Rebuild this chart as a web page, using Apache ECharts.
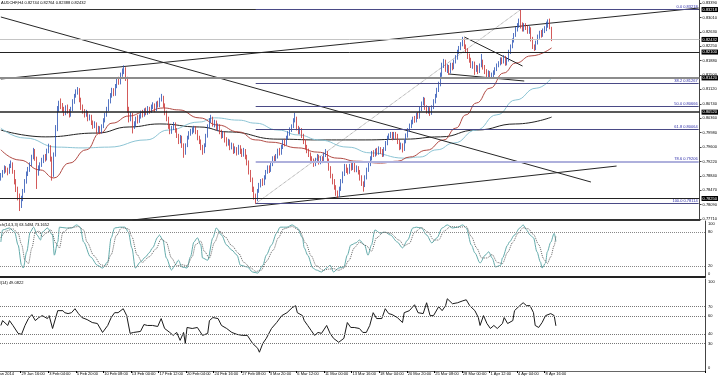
<!DOCTYPE html>
<html>
<head>
<meta charset="utf-8">
<script src="https://cdn.jsdelivr.net/npm/echarts@6.0.0/dist/echarts.min.js"></script>
<style>html,body{margin:0;padding:0;background:#fff}#chart{width:720px;height:377px}</style>
</head>
<body>
<div id="chart"></div>
<script>
// AUDCHF H4 closes, highs, lows (one row = 16 bars)
var firstOpen = 0.7880;
var closes = [
 0.7885,0.7895,0.7905,0.7900,0.7895,0.7910,0.7915,0.7895,0.7870,0.7850,0.7830,0.7815,0.7825,0.7845,0.7870,0.7890,
 0.7900,0.7915,0.7935,0.7950,0.7930,0.7895,0.7905,0.7915,0.7925,0.7935,0.7930,0.7950,0.7960,0.7930,0.7890,0.7940,
 0.8010,0.8060,0.8075,0.8070,0.8060,0.8050,0.8065,0.8055,0.8045,0.8060,0.8080,0.8095,0.8105,0.8110,0.8085,0.8065,
 0.8055,0.8045,0.8050,0.8035,0.8040,0.8025,0.8015,0.8020,0.8005,0.8010,0.8000,0.8015,0.8030,0.8045,0.8060,0.8080,
 0.8095,0.8110,0.8100,0.8120,0.8135,0.8130,0.8150,0.8160,0.8165,0.8140,0.8060,0.8035,0.8045,0.8015,0.8020,0.8035,
 0.8030,0.8040,0.8050,0.8045,0.8055,0.8050,0.8060,0.8055,0.8065,0.8070,0.8060,0.8075,0.8070,0.8085,0.8090,0.8070,
 0.8050,0.8035,0.8015,0.8000,0.8010,0.8020,0.8005,0.7990,0.7975,0.7985,0.7965,0.7945,0.7965,0.7985,0.7995,0.8000,
 0.8005,0.8010,0.8000,0.7985,0.7975,0.7960,0.7950,0.7965,0.7990,0.8015,0.8030,0.8035,0.8020,0.8025,0.8010,0.8015,
 0.8000,0.7990,0.7995,0.7980,0.7970,0.7975,0.7960,0.7965,0.7950,0.7955,0.7945,0.7960,0.7950,0.7940,0.7950,0.7935,
 0.7920,0.7895,0.7875,0.7850,0.7830,0.7825,0.7845,0.7860,0.7870,0.7865,0.7880,0.7895,0.7905,0.7900,0.7915,0.7930,
 0.7925,0.7935,0.7950,0.7945,0.7960,0.7975,0.7970,0.7985,0.7995,0.8005,0.8015,0.8030,0.8035,0.8010,0.8000,0.8005,
 0.7990,0.7975,0.7960,0.7950,0.7940,0.7930,0.7925,0.7915,0.7925,0.7935,0.7920,0.7930,0.7925,0.7940,0.7945,0.7925,
 0.7905,0.7885,0.7870,0.7855,0.7840,0.7835,0.7850,0.7870,0.7890,0.7910,0.7900,0.7895,0.7910,0.7905,0.7915,0.7900,
 0.7905,0.7895,0.7880,0.7865,0.7860,0.7880,0.7900,0.7915,0.7930,0.7945,0.7940,0.7950,0.7945,0.7955,0.7950,0.7940,
 0.7955,0.7970,0.7985,0.7990,0.7995,0.7985,0.7995,0.7990,0.7975,0.7960,0.7965,0.7955,0.7975,0.7990,0.8005,0.8015,
 0.8025,0.8035,0.8030,0.8045,0.8040,0.8060,0.8075,0.8085,0.8065,0.8055,0.8060,0.8050,0.8065,0.8080,0.8095,0.8110,
 0.8125,0.8150,0.8175,0.8185,0.8165,0.8170,0.8160,0.8175,0.8170,0.8185,0.8195,0.8210,0.8220,0.8230,0.8240,0.8225,
 0.8215,0.8200,0.8190,0.8175,0.8180,0.8165,0.8170,0.8160,0.8175,0.8185,0.8170,0.8160,0.8150,0.8155,0.8145,0.8150,
 0.8155,0.8165,0.8175,0.8180,0.8190,0.8185,0.8195,0.8180,0.8190,0.8210,0.8225,0.8240,0.8255,0.8270,0.8280,0.8290,
 0.8280,0.8270,0.8280,0.8275,0.8265,0.8270,0.8245,0.8225,0.8220,0.8235,0.8250,0.8260,0.8255,0.8265,0.8270,0.8280,
 0.8290,0.82744,0.82432
];
var highs = [
 0.7892,0.7900,0.7912,0.7910,0.7906,0.7916,0.7925,0.7920,0.7900,0.7876,0.7856,0.7838,0.7832,0.7850,0.7876,0.7896,
 0.7908,0.7920,0.7940,0.7958,0.7955,0.7935,0.7912,0.7920,0.7932,0.7940,0.7942,0.7956,0.7969,0.7965,0.7935,0.7946,
 0.8018,0.8068,0.8082,0.8088,0.8076,0.8066,0.8070,0.8072,0.8060,0.8066,0.8086,0.8100,0.8112,0.8118,0.8115,0.8090,
 0.8072,0.8060,0.8058,0.8055,0.8046,0.8045,0.8030,0.8028,0.8025,0.8016,0.8015,0.8020,0.8036,0.8050,0.8066,0.8086,
 0.8102,0.8116,0.8115,0.8126,0.8142,0.8145,0.8156,0.8167,0.8175,0.8170,0.8145,0.8066,0.8052,0.8050,0.8028,0.8040,
 0.8044,0.8046,0.8056,0.8058,0.8062,0.8064,0.8068,0.8066,0.8072,0.8078,0.8075,0.8080,0.8082,0.8090,0.8100,0.8095,
 0.8075,0.8056,0.8040,0.8020,0.8016,0.8026,0.8025,0.8010,0.7995,0.7992,0.7990,0.7970,0.7970,0.7990,0.8002,0.8008,
 0.8012,0.8016,0.8015,0.8005,0.7990,0.7980,0.7966,0.7970,0.7995,0.8020,0.8036,0.8045,0.8040,0.8032,0.8030,0.8022,
 0.8020,0.8006,0.8002,0.8000,0.7986,0.7982,0.7980,0.7972,0.7970,0.7962,0.7960,0.7966,0.7965,0.7956,0.7958,0.7955,
 0.7940,0.7925,0.7900,0.7880,0.7856,0.7838,0.7850,0.7866,0.7876,0.7878,0.7886,0.7900,0.7912,0.7912,0.7920,0.7936,
 0.7938,0.7942,0.7956,0.7958,0.7966,0.7980,0.7982,0.7990,0.8002,0.8012,0.8020,0.8036,0.8050,0.8040,0.8016,0.8012,
 0.8010,0.7995,0.7980,0.7966,0.7956,0.7946,0.7936,0.7930,0.7932,0.7942,0.7940,0.7936,0.7936,0.7946,0.7955,0.7950,
 0.7930,0.7910,0.7890,0.7876,0.7860,0.7846,0.7856,0.7876,0.7896,0.7916,0.7915,0.7906,0.7916,0.7918,0.7922,0.7920,
 0.7912,0.7910,0.7900,0.7886,0.7870,0.7886,0.7906,0.7920,0.7936,0.7950,0.7952,0.7956,0.7958,0.7962,0.7960,0.7955,
 0.7960,0.7976,0.7990,0.7996,0.8000,0.8000,0.8000,0.8000,0.7995,0.7980,0.7972,0.7970,0.7980,0.7996,0.8010,0.8022,
 0.8032,0.8040,0.8042,0.8050,0.8052,0.8066,0.8080,0.8092,0.8090,0.8070,0.8068,0.8065,0.8070,0.8086,0.8100,0.8116,
 0.8132,0.8156,0.8182,0.8192,0.8190,0.8178,0.8176,0.8182,0.8182,0.8190,0.8202,0.8216,0.8226,0.8236,0.8250,0.8246,
 0.8230,0.8220,0.8206,0.8195,0.8186,0.8185,0.8176,0.8175,0.8180,0.8205,0.8190,0.8176,0.8165,0.8162,0.8160,0.8156,
 0.8162,0.8170,0.8180,0.8186,0.8196,0.8196,0.8202,0.8200,0.8196,0.8216,0.8230,0.8246,0.8260,0.8276,0.8286,0.8298,
 0.8322,0.8288,0.8286,0.8286,0.8280,0.8278,0.8275,0.8250,0.8230,0.8240,0.8256,0.8266,0.8268,0.8272,0.8278,0.8290,
 0.8296,0.8298,0.82764
];
var lows = [
 0.7872,0.7880,0.7890,0.7893,0.7886,0.7890,0.7905,0.7890,0.7862,0.7842,0.7820,0.7792,0.7800,0.7818,0.7840,0.7864,
 0.7884,0.7895,0.7910,0.7928,0.7924,0.7850,0.7885,0.7898,0.7908,0.7918,0.7922,0.7925,0.7944,0.7922,0.7872,0.7882,
 0.7935,0.8002,0.8052,0.8060,0.8052,0.8042,0.8044,0.8048,0.8038,0.8040,0.8055,0.8074,0.8090,0.8098,0.8078,0.8058,
 0.8048,0.8038,0.8040,0.8028,0.8030,0.8018,0.8008,0.8010,0.7995,0.7998,0.7994,0.7996,0.8010,0.8025,0.8040,0.8055,
 0.8075,0.8090,0.8094,0.8095,0.8115,0.8124,0.8125,0.8145,0.8152,0.8134,0.8050,0.8025,0.8028,0.7996,0.8008,0.8015,
 0.8022,0.8024,0.8035,0.8038,0.8040,0.8044,0.8045,0.8048,0.8050,0.8060,0.8052,0.8055,0.8064,0.8065,0.8080,0.8064,
 0.8044,0.8028,0.8008,0.7994,0.7995,0.8005,0.7998,0.7984,0.7968,0.7970,0.7958,0.7932,0.7940,0.7960,0.7980,0.7990,
 0.7994,0.7998,0.7994,0.7978,0.7968,0.7952,0.7940,0.7944,0.7960,0.7985,0.8010,0.8024,0.8014,0.8012,0.8004,0.8002,
 0.7994,0.7982,0.7984,0.7972,0.7962,0.7964,0.7952,0.7954,0.7942,0.7944,0.7938,0.7940,0.7942,0.7934,0.7935,0.7928,
 0.7912,0.7888,0.7868,0.7842,0.7822,0.7811,0.7818,0.7840,0.7854,0.7858,0.7860,0.7875,0.7890,0.7892,0.7895,0.7910,
 0.7918,0.7920,0.7930,0.7938,0.7940,0.7955,0.7962,0.7965,0.7980,0.7990,0.8000,0.8010,0.8025,0.8004,0.7994,0.7994,
 0.7984,0.7968,0.7954,0.7944,0.7934,0.7924,0.7918,0.7908,0.7910,0.7920,0.7914,0.7915,0.7918,0.7920,0.7934,0.7918,
 0.7898,0.7878,0.7862,0.7848,0.7832,0.7826,0.7830,0.7845,0.7865,0.7884,0.7892,0.7888,0.7890,0.7898,0.7900,0.7894,
 0.7894,0.7888,0.7872,0.7858,0.7843,0.7855,0.7875,0.7895,0.7910,0.7925,0.7934,0.7935,0.7938,0.7940,0.7942,0.7934,
 0.7935,0.7950,0.7965,0.7980,0.7984,0.7978,0.7980,0.7982,0.7968,0.7952,0.7954,0.7946,0.7950,0.7970,0.7985,0.8000,
 0.8010,0.8020,0.8024,0.8025,0.8034,0.8035,0.8055,0.8070,0.8058,0.8048,0.8048,0.8042,0.8045,0.8060,0.8075,0.8090,
 0.8105,0.8120,0.8145,0.8168,0.8158,0.8155,0.8150,0.8154,0.8162,0.8165,0.8180,0.8190,0.8205,0.8215,0.8225,0.8218,
 0.8208,0.8192,0.8182,0.8168,0.8166,0.8150,0.8158,0.8152,0.8155,0.8170,0.8164,0.8152,0.8142,0.8144,0.8140,0.8140,
 0.8144,0.8150,0.8160,0.8170,0.8175,0.8178,0.8180,0.8174,0.8175,0.8185,0.8205,0.8220,0.8235,0.8250,0.8264,0.8274,
 0.8272,0.8264,0.8264,0.8268,0.8258,0.8258,0.8238,0.8218,0.8213,0.8215,0.8230,0.8245,0.8248,0.8250,0.8260,0.8265,
 0.8274,0.8270,0.82388
];

// moving averages: [bar, price]
var maRed = [[0,0.7953],[11,0.7926],[23,0.7900],[31,0.7879],[40,0.7918],[50,0.7953],[58,0.7997],[65,0.8023],[75,0.8042],[84,0.8052],[95,0.8063],[104,0.8058],[116,0.8037],[127,0.8018],[139,0.8000],[149,0.7979],[158,0.7973],[174,0.7958],[185,0.7947],[197,0.7931],[208,0.7923],[222,0.7918],[232,0.7923],[239,0.7934],[249,0.7952],[259,0.7979],[266,0.8010],[272,0.8045],[278,0.8076],[286,0.8115],[294,0.8155],[301,0.8181],[310,0.8200],[322,0.8221]];
var maBlue = [[0,0.8010],[14,0.7984],[33,0.7960],[48,0.7958],[63,0.7960],[85,0.7979],[98,0.8005],[116,0.8026],[125,0.8037],[139,0.8031],[149,0.8023],[162,0.8005],[174,0.7992],[186,0.7979],[203,0.7960],[216,0.7945],[236,0.7931],[245,0.7934],[255,0.7953],[265,0.7971],[278,0.8005],[290,0.8045],[301,0.8084],[313,0.8115],[322,0.8142]];
var maBlack = [[0,0.8005],[26,0.7987],[56,0.7997],[75,0.8013],[93,0.8021],[116,0.8013],[133,0.8000],[162,0.7981],[185,0.7979],[213,0.7979],[236,0.7981],[257,0.7987],[278,0.8005],[301,0.8021],[322,0.8039]];

// trend lines: [[bar, price], [bar, price]]
var trendLines = [
 [[0,0.83022],[345,0.78683]],
 [[0,0.81391],[408,0.83258]],
 [[77,0.77684],[360,0.79103]],
 [[271,0.82496],[305,0.81733]],
 [[262,0.81523],[306,0.81339]]
];
var fibDiagonal = [[149,0.78114],[304,0.83218]];
var fibStartBar = 149;
var fibLevels = ['0.0','38.2','50.0','61.8','78.6','100.0'];
var fibValues = [0.83218,0.81267,0.80666,0.80064,0.79206,0.78114];
var hLevels = [0.83218,0.82432,0.82100,0.81420,0.80520,0.78250];

var priceTicks = [0.83390,0.83010,0.82630,0.82250,0.81880,0.81500,0.81120,0.80740,0.80360,0.79980,0.79600,0.79220,0.78840,0.78470,0.78090,0.77710];
var firstDateLabel = '27 Jan 2014';
var tickBars = [12,28,44,60,76,92,108,124,140,156,172,188,204,220,236,252,268,284,300,316];
var tickLabels = ['29 Jan 16:00','3 Feb 04:00','5 Feb 20:00','10 Feb 08:00','13 Feb 00:00','17 Feb 12:00','20 Feb 04:00','24 Feb 16:00','27 Feb 08:00','3 Mar 20:00','6 Mar 12:00','11 Mar 00:00','13 Mar 16:00','18 Mar 04:00','20 Mar 20:00','25 Mar 08:00','28 Mar 00:00','1 Apr 12:00','4 Apr 04:00','8 Apr 16:00'];

// stochastic (14,3,3): main and signal, [bar, value]
var stochK = [[0,62.5],[1,84],[5,87.5],[8,80],[10,57],[12,21],[13,16],[15,45],[17,80],[19,89],[21,75],[23,66],[24,80],[27,87.5],[30,75],[31,39],[33,62.5],[34,89],[38,87.5],[41,87.5],[44,93],[46,89],[48,62.5],[52,36],[56,21],[59,16],[62,27],[64,70],[66,87.5],[69,89],[72,89],[74,80],[76,52],[78,16],[81,27],[84,36],[86,43],[88,52],[91,71],[92,75],[94,66],[96,34],[99,12.5],[101,21],[103,30],[105,18],[108,16],[110,36],[112,62.5],[114,70],[116,57],[117,34],[120,30],[123,70],[125,87.5],[128,75],[131,57],[134,48],[137,39],[139,21],[143,18],[146,9],[149,7],[152,21],[154,39],[157,57],[160,78.5],[162,89],[166,89],[169,93],[172,87.5],[175,70],[176,52],[178,39],[181,16],[183,12.5],[186,9],[189,16],[191,21],[193,9],[196,16],[199,18],[201,39],[203,57],[206,61],[208,66],[211,57],[213,39],[215,57],[217,84],[220,78.5],[223,80],[226,75],[230,62.5],[233,52],[236,66],[239,87.5],[241,89],[244,87.5],[247,75],[250,61],[253,70],[256,87.5],[259,93],[262,87.5],[265,89],[268,93],[270,87.5],[273,57],[275,43],[278,25],[281,39],[283,45],[285,34],[287,18],[290,21],[291,34],[294,57],[295,62.5],[298,75],[301,87.5],[303,93],[305,84],[307,75],[309,70],[311,45],[313,27],[314,16],[316,25],[317,45],[319,62],[321,78],[322,63.5]];
var stochD = [[0,70],[3,82],[7,86],[10,78],[12,58],[14,30],[16,24],[18,52],[20,80],[22,82],[24,72],[26,78],[29,84],[32,60],[34,52],[36,80],[40,88],[45,90],[48,84],[50,62],[54,38],[58,22],[61,19],[64,40],[67,74],[70,88],[74,86],[76,72],[79,40],[82,26],[86,36],[90,50],[93,68],[96,62],[99,34],[102,20],[105,22],[108,20],[111,36],[113,58],[116,64],[118,46],[121,34],[124,62],[127,82],[130,72],[134,56],[138,42],[141,26],[145,16],[148,10],[151,12],[154,28],[158,48],[161,70],[164,86],[169,90],[173,84],[177,60],[180,38],[183,20],[187,12],[190,14],[193,15],[196,12],[199,16],[202,30],[205,52],[208,62],[212,56],[215,46],[218,70],[222,80],[226,78],[231,66],[234,56],[237,60],[240,80],[244,88],[248,80],[251,66],[254,66],[257,82],[261,90],[266,89],[270,90],[273,72],[276,52],[279,34],[282,34],[285,40],[288,26],[291,24],[294,44],[297,62],[300,78],[303,88],[306,86],[309,76],[312,58],[315,32],[317,24],[319,36],[321,56],[322,73.2]];

// RSI(14), [bar, value]
var rsi = [[0,49.5],[1,54.8],[4,49.5],[5,54.8],[6,52.7],[7,49.5],[10,40.9],[12,39.8],[14,49.5],[16,57],[18,61.3],[20,54.8],[22,58.1],[24,60.2],[27,57],[28,60.2],[30,46.2],[33,65.6],[34,67.7],[36,65.6],[37,63.4],[39,62.4],[41,63.4],[43,67.7],[45,62.4],[47,58.1],[50,55.9],[53,52.7],[56,51.6],[59,41.9],[62,49.5],[64,58.1],[66,63.4],[68,63.4],[71,67.7],[73,60.2],[75,40.9],[77,41.9],[81,43],[83,50.5],[85,49.5],[88,49.5],[91,48.4],[93,57],[95,46.2],[98,41.9],[100,38.7],[102,41.9],[104,33.3],[106,41.9],[107,30.1],[108,47.3],[111,46.2],[114,47.3],[117,38.7],[120,40.9],[121,54.8],[123,58.1],[126,57],[128,49.5],[131,46.2],[134,41.9],[137,39.8],[140,38.7],[143,38.7],[146,30.1],[149,24.7],[150,20.4],[152,30.1],[154,35.5],[157,46.2],[160,52.7],[163,60.2],[166,63.4],[169,68.8],[171,71],[172,63.4],[175,60.2],[176,54.8],[178,49.5],[180,44.1],[182,38.7],[184,41.9],[186,40.9],[189,49.5],[191,40.9],[193,35.5],[196,31.2],[199,35.5],[201,52.7],[203,47.3],[205,47.3],[208,46.2],[210,41.9],[212,41.9],[214,49.5],[216,63.4],[218,57],[221,57],[223,67.7],[225,62.4],[227,61.3],[230,58.1],[233,52.7],[234,63.4],[237,65.6],[240,72],[242,63.4],[245,62.4],[247,74.2],[249,60.2],[251,60.2],[254,69.9],[256,65.6],[258,71],[259,78.5],[262,73.1],[265,74.2],[268,76.3],[270,77.4],[272,71],[275,65.6],[277,58.1],[278,49.5],[280,60.2],[282,51.6],[284,46.2],[286,49.5],[288,46.2],[291,51.6],[292,58.1],[294,51.6],[297,54.8],[298,65.6],[301,71],[303,74.2],[305,71],[307,71],[309,63.4],[310,49.5],[312,47.3],[314,52.7],[316,60.2],[319,62.4],[320,64.5],[321,60.2],[322,49.1]];

var nSlots = 409;
var cats = [];
for (var i = 0; i < nSlots; i++) cats.push(String(i));
var candles = closes.map(function (c, i) {
  var o = i === 0 ? firstOpen : closes[i - 1];
  return [o, c, lows[i], highs[i]];
});

var FS = 4;
var FONT = 'Liberation Sans';

function isTick(idx) { return tickBars.indexOf(idx) >= 0; }

function xAxis(grid, bottomLine, withLabels) {
  return {
    type: 'category', gridIndex: grid, data: cats, boundaryGap: true,
    axisLine: { show: true, lineStyle: bottomLine },
    axisTick: withLabels ? { show: true, interval: isTick, length: 2, lineStyle: { color: '#000', width: 1 } } : { show: false },
    axisLabel: withLabels ? {
      show: true, interval: isTick, align: 'left', margin: 1,
      fontSize: FS, color: '#000', fontFamily: FONT,
      formatter: function (v, idx) { var k = tickBars.indexOf(idx); return k >= 0 ? tickLabels[k] : ''; }
    } : { show: false },
    splitLine: { show: false }
  };
}

function plainLine(data, xi, color, width, type, smooth, z) {
  return {
    type: 'line', xAxisIndex: xi, yAxisIndex: xi, data: data, symbol: 'none',
    smooth: smooth || false, smoothMonotone: 'x', silent: true, z: z || 3,
    lineStyle: { color: color, width: width, type: type || 'solid' }
  };
}

var hStyles = [
  { color: '#333', width: 1 },
  { color: '#c4c4c4', width: 1 },
  { color: '#222', width: 1 },
  { color: '#8c8c8c', width: 2 },
  { color: '#222', width: 1.5 },
  { color: '#222', width: 1 }
];
var hLineData = hLevels.map(function (v, k) {
  return {
    yAxis: v, lineStyle: { color: hStyles[k].color, width: hStyles[k].width, type: 'solid' },
    label: { show: true, position: 'end', distance: 2, formatter: v.toFixed(5), backgroundColor: '#000', color: '#fff', fontSize: FS, fontFamily: FONT, padding: [1, 1, 0, 1] }
  };
});
var fibLineData = fibValues.map(function (v, k) {
  var ls = k === 4 ? { color: '#aeb0dc', width: 2, type: 'solid' } : { color: '#4a4a86', width: 1, type: 'solid' };
  var lb = { show: true, position: 'insideEndTop', distance: 1, formatter: fibLevels[k] + ' ' + v.toFixed(5), color: '#2a2aa8', fontSize: FS, fontFamily: FONT };
  return [{ coord: [fibStartBar, v], lineStyle: ls, label: lb }, { coord: [nSlots - 1, v], lineStyle: ls, label: lb }];
});

var series = [
  {
    type: 'candlestick', xAxisIndex: 0, yAxisIndex: 0, data: candles, barWidth: 1.2, z: 4,
    itemStyle: { color: '#2a52b4', color0: '#c83030', borderColor: '#2a52b4', borderColor0: '#c83030', borderWidth: 0.8 },
    markLine: { silent: true, precision: 5, symbol: ['none', 'none'], animation: false, data: hLineData.concat(fibLineData) }
  },
  plainLine(maBlack, 0, '#222', 1, 'solid', true),
  plainLine(maBlue, 0, '#8cc4d4', 1, 'solid', true),
  plainLine(maRed, 0, '#b04a44', 1, 'solid', true),
  plainLine(fibDiagonal, 0, '#777', 0.8, 'dotted')
];
trendLines.forEach(function (t) { series.push(plainLine(t, 0, '#262626', 1, 'solid')); });

var stochMain = plainLine(stochK, 1, '#62aaaa', 1, 'solid', 0.3);
stochMain.markLine = { silent: true, symbol: ['none', 'none'], animation: false, label: { show: false },
  lineStyle: { color: '#888', width: 1, type: 'dotted' }, data: [{ yAxis: 80 }, { yAxis: 20 }] };
series.push(stochMain);
series.push(plainLine(stochD, 1, '#666', 1, 'dotted', 0.3));

var rsiLine = plainLine(rsi, 2, '#1a1a1a', 1, 'solid');
rsiLine.markLine = { silent: true, symbol: ['none', 'none'], animation: false, label: { show: false },
  lineStyle: { color: '#777', width: 1, type: 'dotted' }, data: [{ yAxis: 70 }, { yAxis: 60 }, { yAxis: 40 }, { yAxis: 30 }] };
series.push(rsiLine);

function edgeLabel(top, bottom) {
  return function (v) {
    if (v === top) return '{t|' + v + '}';
    if (v === bottom) return '{b|' + v + '}';
    return String(v);
  };
}
var edgeRich = { t: { padding: [6, 0, 0, 0], fontSize: FS, fontFamily: FONT }, b: { padding: [0, 0, 6, 0], fontSize: FS, fontFamily: FONT } };
var smallText = { fontSize: FS, fontWeight: 'normal', color: '#000', fontFamily: FONT };

var chart = echarts.init(document.getElementById('chart'), null, { renderer: 'canvas' });
chart.setOption({
  animation: false,
  backgroundColor: '#fff',
  textStyle: { fontFamily: FONT },
  title: [
    { text: 'AUDCHF,H4 0.82744 0.82764 0.82388 0.82432', left: 1, top: 1, padding: 0, textStyle: smallText },
    { text: 'Stoch(14,3,3) 63.5484 73.1652', left: -6, top: 223, padding: 0, textStyle: smallText },
    { text: 'RSI(14) 49.0822', left: -6, top: 281, padding: 0, textStyle: smallText },
    { text: firstDateLabel, left: -8, top: 372, padding: 0, textStyle: smallText }
  ],
  grid: [
    { left: 0, width: 705, top: 0, height: 220 },
    { left: 0, width: 705, top: 221, height: 56 },
    { left: 0, width: 705, top: 279, height: 92 }
  ],
  xAxis: [
    xAxis(0, { color: '#333', width: 2 }, false),
    xAxis(1, { color: '#222', width: 2 }, false),
    xAxis(2, { color: '#666', width: 1 }, true)
  ],
  yAxis: [
    {
      type: 'value', gridIndex: 0, position: 'right', min: 0.77684, max: 0.83469,
      axisLine: { show: true, lineStyle: { color: '#444', width: 1 } },
      axisTick: { show: true, length: 2, customValues: priceTicks, lineStyle: { color: '#444' } },
      axisLabel: { show: true, customValues: priceTicks, margin: 3, fontSize: FS, color: '#000', fontFamily: FONT, formatter: function (v) { return v.toFixed(5); } },
      splitLine: { show: false }
    },
    {
      type: 'value', gridIndex: 1, position: 'right', min: 0, max: 100,
      axisLine: { show: true, lineStyle: { color: '#444', width: 1 } },
      axisTick: { show: false },
      axisLabel: { show: true, customValues: [0, 20, 80, 100], margin: 3, fontSize: FS, color: '#000', formatter: edgeLabel(100, 0), rich: edgeRich },
      splitLine: { show: false }
    },
    {
      type: 'value', gridIndex: 2, position: 'right', min: 0, max: 100,
      axisLine: { show: true, lineStyle: { color: '#444', width: 1 } },
      axisTick: { show: false },
      axisLabel: { show: true, customValues: [0, 30, 40, 60, 70, 100], margin: 3, fontSize: FS, color: '#000', formatter: edgeLabel(100, 0), rich: edgeRich },
      splitLine: { show: false }
    }
  ],
  series: series
});
</script>
</body>
</html>
